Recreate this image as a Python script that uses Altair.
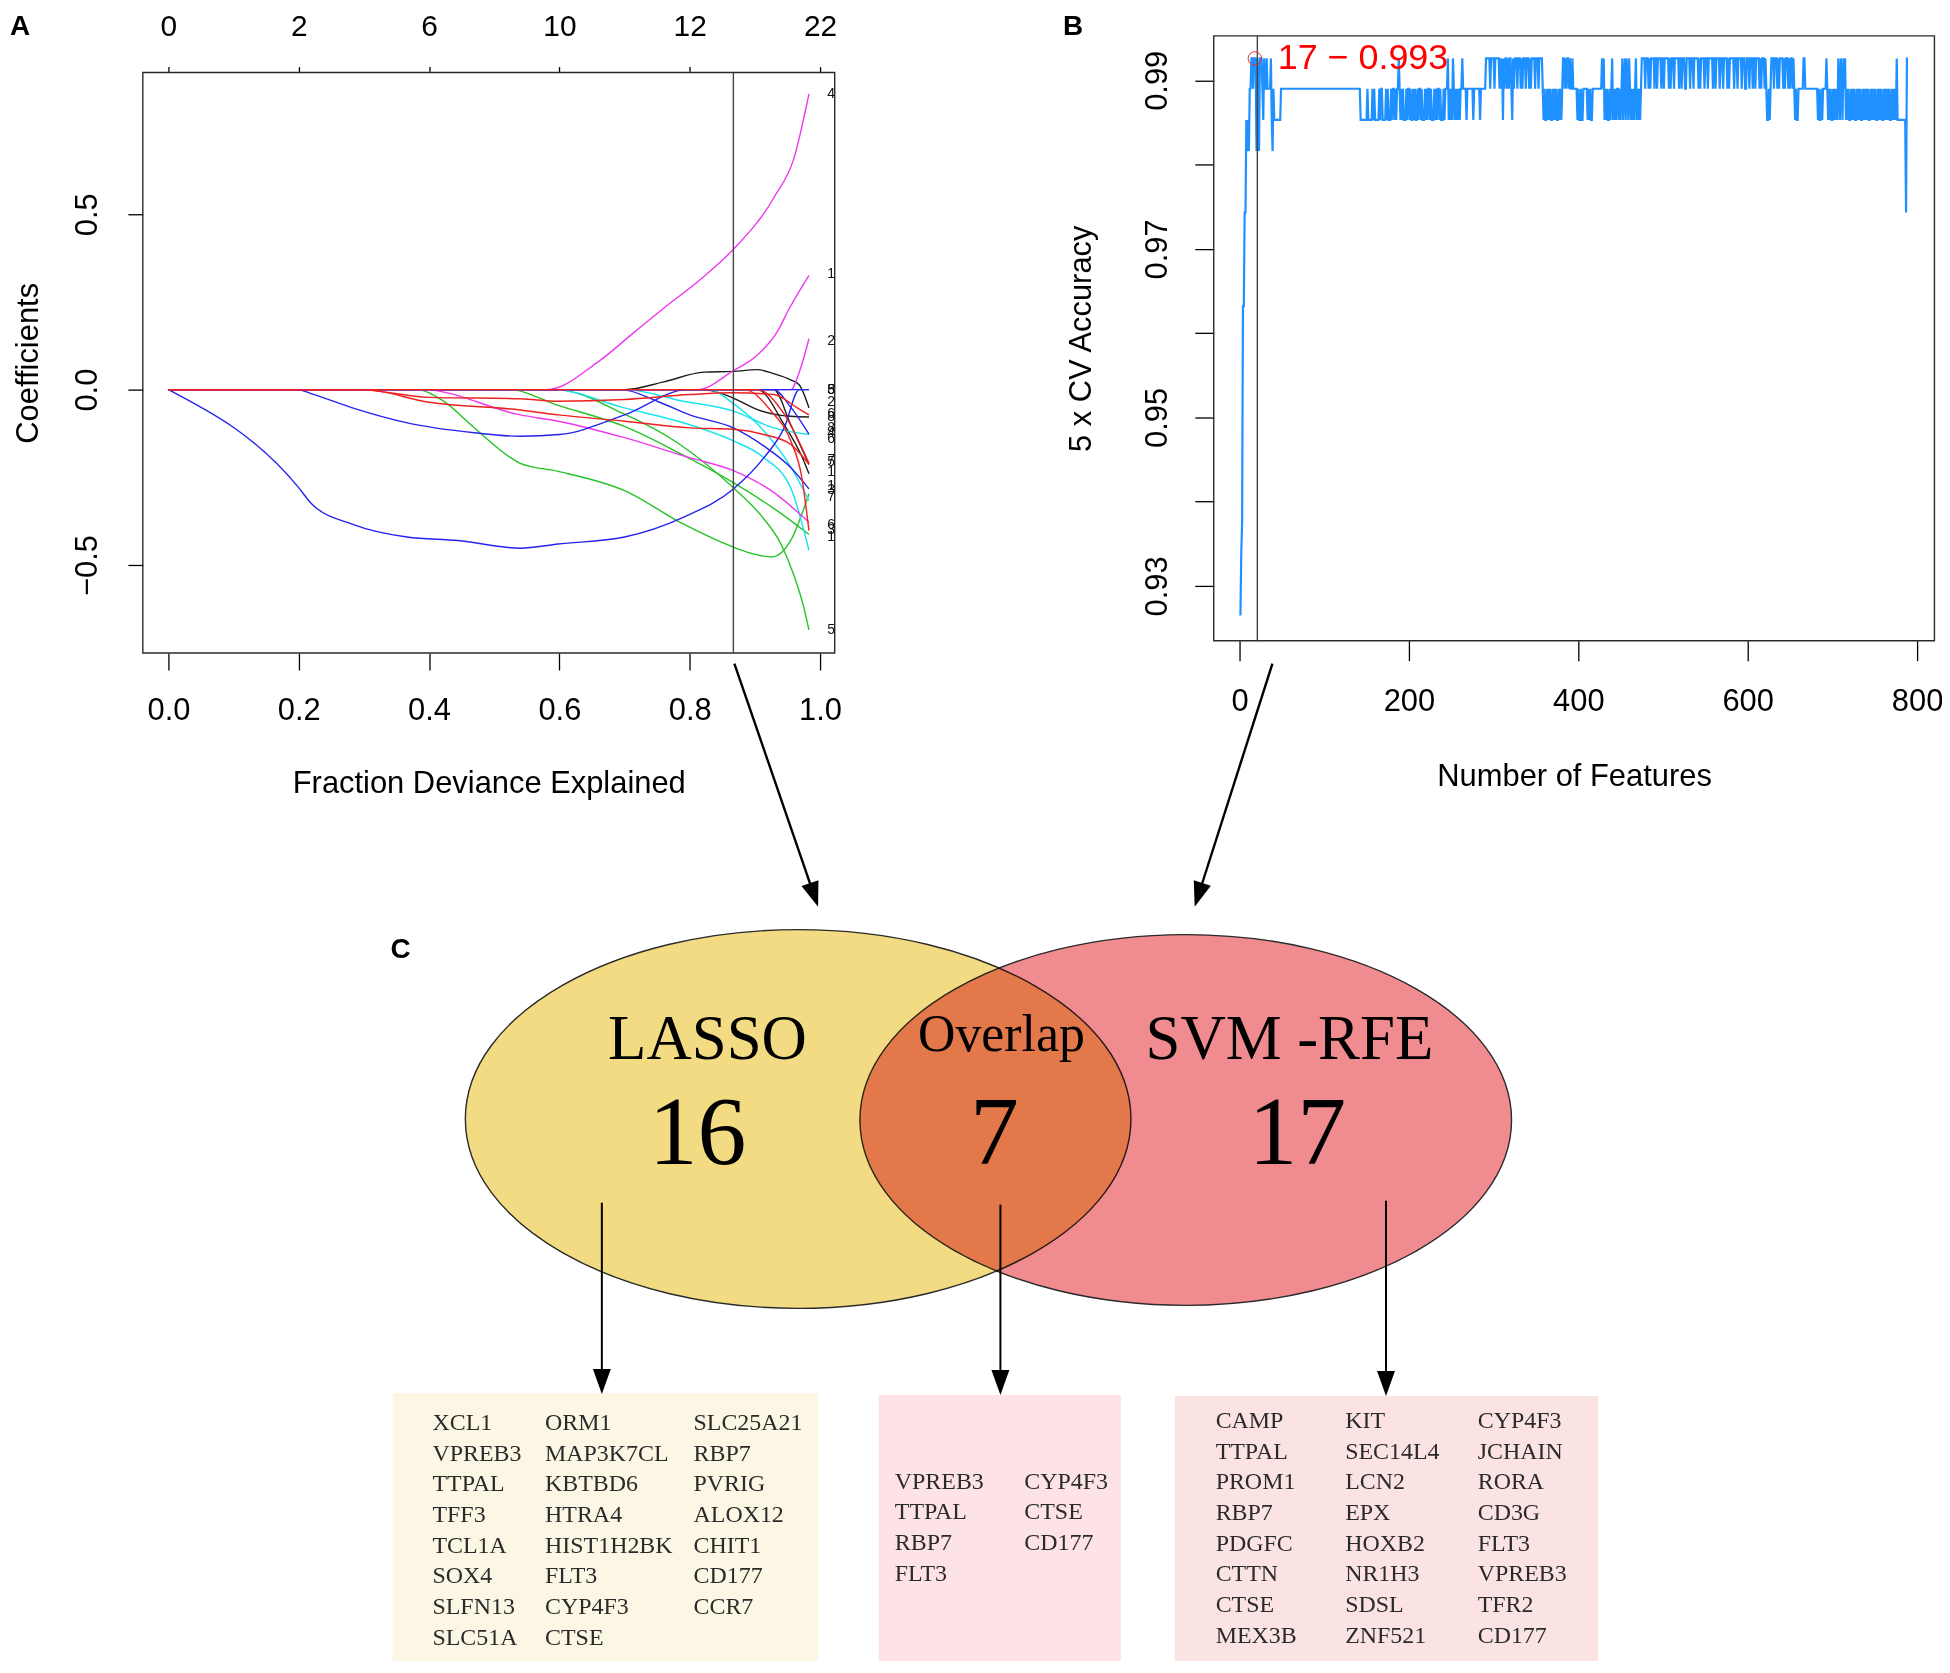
import json
import math
import altair as alt
import pandas as pd

# ============================ DATA ============================
# ---- Panel A : LASSO coefficient paths ----
a_dev_ticks = [0.0, 0.2, 0.4, 0.6, 0.8, 1.0]
a_nonzero_labels = ["0", "2", "6", "10", "12", "22"]
a_coef_ticks = [-0.5, 0.0, 0.5]
a_selected_dev = 0.867

a_palette = {"black": "#1c1c1c", "red": "#f02020", "green": "#26c326",
             "blue": "#2424ee", "cyan": "#18e4ee", "magenta": "#ee38ee"}

black_top = [(0, 0), (0.70, 0), (0.76, 0.022), (0.822, 0.050), (0.867, 0.052), (0.904, 0.057),
             (0.93, 0.045), (0.955, 0.028), (0.968, 0.014), (0.983, -0.052)]
black_2 = [(0, 0), (0.822, 0), (0.867, -0.024), (0.904, -0.057), (0.955, -0.076), (0.983, -0.078)]
black_3 = [(0, 0), (0.904, 0), (0.945, -0.10), (0.972, -0.19), (0.983, -0.24)]
black_4 = [(0, 0), (0.929, 0), (0.955, -0.10), (0.983, -0.213)]
green_a = [(0, 0), (0.38, 0), (0.42, -0.03), (0.47, -0.11), (0.54, -0.21), (0.598, -0.233), (0.70, -0.288),
           (0.79, -0.383), (0.867, -0.449), (0.888, -0.463), (0.926, -0.477), (0.955, -0.43), (0.983, -0.297)]
green_b = [(0, 0), (0.523, 0), (0.598, -0.045), (0.70, -0.105), (0.778, -0.175), (0.867, -0.265),
           (0.93, -0.34), (0.983, -0.413)]
green_c = [(0, 0), (0.595, 0), (0.70, -0.07), (0.78, -0.15), (0.867, -0.28), (0.91, -0.36), (0.94, -0.44),
           (0.96, -0.53), (0.975, -0.62), (0.983, -0.685)]
cyan_1 = [(0, 0), (0.59, 0), (0.70, -0.052), (0.80, -0.10), (0.867, -0.146), (0.914, -0.194),
          (0.955, -0.28), (0.983, -0.458)]
cyan_2 = [(0, 0), (0.70, 0), (0.79, -0.033), (0.867, -0.061), (0.929, -0.109), (0.983, -0.128)]
cyan_3 = [(0, 0), (0.83, 0), (0.867, -0.04), (0.914, -0.118), (0.955, -0.22), (0.983, -0.316)]
magenta_big = [(0, 0), (0.58, 0), (0.66, 0.08), (0.715, 0.164), (0.76, 0.232), (0.82, 0.32), (0.867, 0.40),
               (0.93, 0.55), (0.96, 0.66), (0.983, 0.843)]
magenta_2 = [(0, 0), (0.812, 0), (0.867, 0.054), (0.904, 0.099), (0.934, 0.164), (0.953, 0.232), (0.983, 0.326)]
magenta_3 = [(0, 0), (0.955, 0), (0.97, 0.06), (0.983, 0.145)]
magenta_low = [(0, 0), (0.39, 0), (0.54, -0.072), (0.598, -0.09), (0.70, -0.137), (0.80, -0.194),
               (0.867, -0.231), (0.925, -0.288), (0.983, -0.378)]
blue_big = [(0, 0), (0.198, -0.275), (0.22, -0.326), (0.283, -0.384), (0.366, -0.42), (0.444, -0.43),
            (0.54, -0.452), (0.598, -0.44), (0.70, -0.42), (0.79, -0.364), (0.867, -0.283), (0.914, -0.194),
            (0.945, -0.109), (0.968, 0), (0.983, 0)]
blue_2 = [(0, 0), (0.198, 0), (0.22, -0.012), (0.286, -0.054), (0.365, -0.094), (0.47, -0.123), (0.54, -0.133),
          (0.60, -0.128), (0.70, -0.072), (0.797, 0), (0.983, 0)]
blue_3 = [(0, 0), (0.695, 0), (0.75, -0.033), (0.80, -0.072), (0.867, -0.109), (0.914, -0.161),
          (0.955, -0.222), (0.983, -0.283)]
blue_4 = [(0, 0), (0.929, 0), (0.955, -0.05), (0.983, -0.127)]
red_1 = [(0, 0), (0.29, 0), (0.40, -0.022), (0.54, -0.026), (0.598, -0.033), (0.70, -0.028), (0.80, -0.014),
         (0.867, -0.009), (0.929, -0.014), (0.965, -0.052), (0.983, -0.072)]
red_2 = [(0, 0), (0.30, 0), (0.40, -0.036), (0.54, -0.058), (0.598, -0.072), (0.70, -0.09), (0.80, -0.109),
         (0.867, -0.113), (0.914, -0.128), (0.955, -0.156), (0.983, -0.213)]
red_3 = [(0, 0), (0.884, 0), (0.925, -0.061), (0.955, -0.146), (0.972, -0.25), (0.983, -0.402)]
red_4 = [(0, 0), (0.904, 0), (0.945, -0.07), (0.983, -0.21)]

a_paths = [
    ("black_top", "black", black_top), ("black_2", "black", black_2), ("black_3", "black", black_3),
    ("black_4", "black", black_4), ("green_a", "green", green_a), ("green_b", "green", green_b),
    ("green_c", "green", green_c), ("cyan_1", "cyan", cyan_1), ("cyan_2", "cyan", cyan_2),
    ("cyan_3", "cyan", cyan_3), ("magenta_big", "magenta", magenta_big), ("magenta_2", "magenta", magenta_2),
    ("magenta_3", "magenta", magenta_3), ("magenta_low", "magenta", magenta_low),
    ("blue_big", "blue", blue_big), ("blue_2", "blue", blue_2), ("blue_3", "blue", blue_3),
    ("blue_4", "blue", blue_4), ("red_1", "red", red_1), ("red_2", "red", red_2),
    ("red_3", "red", red_3), ("red_4", "red", red_4),
]

a_end_labels = ["4", "1", "2", "5", "8", "2", "6", "8", "8", "4", "6", "7", "5", "1", "1", "3", "7",
                "6", "3", "1", "5"]
a_end_label_coef = [0.844, 0.329, 0.139, 0.0, 0.0, -0.034, -0.07, -0.078, -0.11, -0.125, -0.14, -0.2,
                    -0.207, -0.235, -0.275, -0.285, -0.306, -0.385, -0.40, -0.42, -0.686]

# ---- Panel B : SVM-RFE 5 x CV accuracy vs number of features ----
b_levels = {"a": 0.9926, "b": 0.9890, "c": 0.9853, "d": 0.9816, "e": 0.9743,
            "f": 0.9632, "g": 0.9375, "h": 0.9338, "i": 0.9265}
# run-length reading of the curve: "<count><level>" for n = 1, 2, 3, ...
b_runs = [
    "1i 1h 1g 2f 2e 1c 1d 1c 1d 2b 2a 1b 3a 1d 1a 1b 1d 3a 1b 1c 1a 2b 1a 4b 1a 1c 1d 1b 8c 94b",
    "8c 1b 5c 1b 1c 1b 5c 1b 1c 2b 4c 1b 1c 1b 3c 1b 1c 2b 1c 1b 1c 2b 1a 1b 1c 1b 1c 1b 3c 1b 1c 2b",
    "1c 1b 2c 1b 1c 1b 2c 1b 1c 2b 1c 1b 3c 1b 1c 1b 1c 2b 1c 1b 3c 1b 1c 1b 1c 2b 1c 1b 3c 1b 1c 3b 1a 1c 1b 1c 1b 1c 1a 1b",
    "1c 1b 1c 1b 1c 1b 1c 2b 1a 4b 1c 7b 1c 7b 1c 6b",
    "5a 1b 4a 1b 5a 1b 1a 1b 1a 1c 1a 1b 2a 1b 1a 1b 2a 1b 1c 1a 1b 3a 1b 3a 1b 1a 1b 3a 1b 3a 1b 1a 1b 4a 1b 3a 1b 4a 1b",
    "1c 1b 2c 1b 1c 1b 1c 1b 2c 1b 1c 1b 1c 1b 2c 1b 1c 1b 1c 1b",
    "2a 1b 1a 1b 2a 1b 1a 2b 1a 5b",
    "1c 1b 2c 1b 2c 5b 1c 1b 1c 1b 2c 11b 1a 1b",
    "1a 1c 1b 1c 1b 2c 1b 1c 1b 1a 1c 1b 1c 1b 1c 2b 1c 1b 1c 1b 1a 1c 1b 1a 1c 1a 1b 1c 1a 1b 1c 1b 1c 1b 1c 1b 1a 1c 1b 1c 1b 1c 1b",
    "4a 1b 3a 1b 1a 1b 4a 1b 2a 1b 4a 1b 2a 1b 5a 1b 1a 1b 3a 1b 5a 1b 2a 1b 3a 2b 4a 1b 3a 1b 5a 1b 1a 1b 4a 1b 3a 1b 5a 1b 2a 1b 4a 1b 3a 1b 4a 1b 1a 1b 5a 1b 3a 1b 4a 1b 3a 2b 3a",
    "1b 3a 1b 2a 1b 4a 1b 1a 1b 3a 1b 1a 1b 2c 1b 1c 1b 3a 1b 3a 1b 1a 1b 4a 1b 1a 1b 3a 1b 1a 1b 2a 1b 1a 1b 1c 1b 2c",
    "6b 2a 15b 1c 1b 2c 1b 1c 4b 1a 1b",
    "1c 1b 1c 1b 2c 1b 1c 1b 1c 1b 1c 1a 1b 1c 1a 1b 1c 1a 1b 1a",
    "1c 1b 1c 1b 2c 1b 1c 1b 1c 1b 2c 1b 1c 1b 1c 1b 2c 1b 1c 1b 1c 1b 1c 1b 2c 1b 1c 1b 1c 1b 1c 1b 2c 1b 1c 1b 1c 1b 2c 1b 1c 1b 1c 1b 1c 1b 2c 1b 1c 1b 1c 1b",
    "1c 1a 10c 1e 2a",
]
b_best_n = 18
b_best_acc = 0.9926
b_best_label = "17 \u2212 0.993"
b_vline_n = 21
b_x_ticks = [0, 200, 400, 600, 800]
b_y_ticks = [0.93, 0.94, 0.95, 0.96, 0.97, 0.98, 0.99]

# ---- Panel C : Venn diagram and gene lists ----
venn_names = ["LASSO", "Overlap", "SVM -RFE"]
venn_counts = ["16", "7", "17"]
lasso_genes = [["XCL1", "VPREB3", "TTPAL", "TFF3", "TCL1A", "SOX4", "SLFN13", "SLC51A"],
               ["ORM1", "MAP3K7CL", "KBTBD6", "HTRA4", "HIST1H2BK", "FLT3", "CYP4F3", "CTSE"],
               ["SLC25A21", "RBP7", "PVRIG", "ALOX12", "CHIT1", "CD177", "CCR7"]]
overlap_genes = [["VPREB3", "TTPAL", "RBP7", "FLT3"],
                 ["CYP4F3", "CTSE", "CD177"]]
svm_genes = [["CAMP", "TTPAL", "PROM1", "RBP7", "PDGFC", "CTTN", "CTSE", "MEX3B"],
             ["KIT", "SEC14L4", "LCN2", "EPX", "HOXB2", "NR1H3", "SDSL", "ZNF521"],
             ["CYP4F3", "JCHAIN", "RORA", "CD3G", "FLT3", "VPREB3", "TFR2", "CD177"]]
panel_letters = ["A", "B", "C"]

# ============================ LAYOUT / STYLE ============================
W, H = 1941, 1657
SANS = "Liberation Sans"
SERIF = "Liberation Serif"

AX = alt.Scale(domain=[-0.0393, 1.0225], range=[135.3, 829.7], nice=False, zero=False)
AY = alt.Scale(domain=[-0.751, 0.904], range=[644.4, 61.8], nice=False, zero=False)
BX = alt.Scale(domain=[-30.5, 820.5], range=[1210.1, 1933.4], nice=False, zero=False)
BY = alt.Scale(domain=[0.9235, 0.99527], range=[632.0, 25.0], nice=False, zero=False)
# page-pixel frame used for the diagram panel
PX = alt.Scale(domain=[8, 8 + W], range=[0, W], nice=False, zero=False)
PY = alt.Scale(domain=[8, 8 + H], range=[0, H], nice=False, zero=False)

ELL_R = 0.569
ELLIPSE = (f"M-1,0A1,{ELL_R},0,0,1,0,-{ELL_R}A1,{ELL_R},0,0,1,1,0"
           f"A1,{ELL_R},0,0,1,0,{ELL_R}A1,{ELL_R},0,0,1,-1,0Z")
ARROW = "M0,0L-0.36,-1L0.36,-1Z"

venn_ellipses = [(801, 1120, 334, "#F2DB83"), (1190, 1121, 327, "#F08C90")]
venn_name_x = [710, 1005, 1294]
venn_name_base = [1060, 1052, 1060]
venn_name_size = [63, 52, 63]
venn_count_x = [700, 998, 1302]
venn_count_base = 1165
venn_count_size = 98

gene_boxes = [(394, 821, 1395, 1664, "#FCF6E4"), (882, 1125, 1397, 1664, "#FDE3E8"),
              (1179, 1604, 1398, 1664, "#FBE3E3")]
gene_col_x = [[434, 547, 696], [898, 1028], [1220, 1350, 1483]]
gene_row0 = [1432, 1491, 1430]
gene_row_step = 30.8

arrow_lines = [((737, 663), (821, 907), 2.4), ((1277, 663), (1199, 907), 2.4),
               ((604, 1204), (604, 1396), 2.0), ((1004, 1206), (1004, 1397), 2.0),
               ((1391, 1202), (1391, 1398), 2.0)]
letter_pos = [(20, 32), (1077, 32), (402, 958)]


def axis(**kw):
    base = dict(grid=False, domain=False, labelFont=SANS, labelFontSize=31, labelColor="black",
                tickColor="black", tickWidth=1.3, titleFont=SANS, titleFontSize=31,
                titleFontWeight="normal", titleColor="black", labelFlush=False, labelOverlap=False)
    base.update(kw)
    return alt.Axis(**base)


layers = []

# ---------------- Panel A ----------------
rows = []
for name, col, pts in a_paths:
    for i, (d, c) in enumerate(pts):
        rows.append({"series": name, "color": a_palette[col], "order": i, "dev": d, "coef": c})
a_df = pd.DataFrame(rows)

layers.append(
    alt.Chart(a_df).mark_line(strokeWidth=1.4, interpolate="monotone").encode(
        x=alt.X("dev:Q", scale=AX, axis=axis(
            orient="bottom", offset=644.4 - H, values=a_dev_ticks, format=".1f", tickSize=17,
            labelPadding=26, title="Fraction Deviance Explained", titleY=130.6, titleBaseline="middle")),
        y=alt.Y("coef:Q", scale=AY, axis=axis(
            orient="left", offset=-135.3, values=a_coef_ticks, format=".1f", tickSize=15, labelPadding=24,
            labelAngle=270, labelAlign="center", labelBaseline="bottom", title="Coefficients",
            titleX=-115, titleBaseline="middle", titleAngle=270)),
        color=alt.Color("color:N", scale=None),
        detail="series:N",
        order="order:Q",
    )
)

a_box = pd.DataFrame({"x0": [AX.domain[0]], "x1": [AX.domain[1]], "y0": [AY.domain[0]], "y1": [AY.domain[1]]})
top_expr = f"{json.dumps(a_nonzero_labels)}[round(datum.value * 5)]"
layers.append(
    alt.Chart(a_box).mark_rect(fillOpacity=0, stroke="#2a2a2a", strokeWidth=1.4).encode(
        x=alt.X("x0:Q", scale=AX, axis=axis(orient="top", offset=-61.8, values=a_dev_ticks,
                                            labelExpr=top_expr, tickSize=6, labelPadding=25,
                                            labelFontSize=30, title=None)),
        x2="x1:Q",
        y=alt.Y("y0:Q", scale=AY, axis=None),
        y2="y1:Q",
    )
)

a_v = pd.DataFrame({"dev": [a_selected_dev], "y0": [AY.domain[0]], "y1": [AY.domain[1]]})
layers.append(
    alt.Chart(a_v).mark_rule(color="#444444", strokeWidth=1.4).encode(
        x=alt.X("dev:Q", scale=AX, axis=None), y=alt.Y("y0:Q", scale=AY, axis=None), y2="y1:Q")
)

a_lab = pd.DataFrame({"label": a_end_labels, "coef": a_end_label_coef, "dev": [1.011] * len(a_end_labels)})
layers.append(
    alt.Chart(a_lab).mark_text(font=SANS, fontSize=14, align="left", baseline="middle", color="#111111").encode(
        x=alt.X("dev:Q", scale=AX, axis=None), y=alt.Y("coef:Q", scale=AY, axis=None), text="label:N")
)

# ---------------- Panel B ----------------
b_n, b_acc = [], []
n = 0
for chunk in b_runs:
    for tok in chunk.split():
        cnt, lev = int(tok[:-1]), tok[-1]
        for _ in range(cnt):
            n += 1
            b_n.append(n)
            b_acc.append(b_levels[lev])
b_df = pd.DataFrame({"n": b_n, "acc": b_acc})

b_yexpr = "(round(datum.value * 100) % 2 == 1) ? format(datum.value, '.2f') : ''"
layers.append(
    alt.Chart(b_df).mark_line(color="#1E90FF", strokeWidth=2.2).encode(
        x=alt.X("n:Q", scale=BX, axis=axis(
            orient="bottom", offset=632.0 - H, values=b_x_ticks, format="d", tickSize=20, labelPadding=26,
            title="Number of Features", titleY=136, titleBaseline="middle")),
        y=alt.Y("acc:Q", scale=BY, axis=axis(
            orient="left", offset=-1210.1, values=b_y_ticks, labelExpr=b_yexpr, tickSize=19, labelPadding=21,
            labelAngle=270, labelAlign="center", labelBaseline="bottom", title="5 x CV Accuracy",
            titleX=-133, titleBaseline="middle", titleAngle=270)),
    )
)

b_box = pd.DataFrame({"x0": [BX.domain[0]], "x1": [BX.domain[1]], "y0": [BY.domain[0]], "y1": [BY.domain[1]]})
layers.append(
    alt.Chart(b_box).mark_rect(fillOpacity=0, stroke="#2a2a2a", strokeWidth=1.4).encode(
        x=alt.X("x0:Q", scale=BX, axis=None), x2="x1:Q",
        y=alt.Y("y0:Q", scale=BY, axis=None), y2="y1:Q")
)

b_v = pd.DataFrame({"n": [b_vline_n], "y0": [BY.domain[0]], "y1": [BY.domain[1]]})
layers.append(
    alt.Chart(b_v).mark_rule(color="#444444", strokeWidth=1.4).encode(
        x=alt.X("n:Q", scale=BX, axis=None), y=alt.Y("y0:Q", scale=BY, axis=None), y2="y1:Q")
)

b_best = pd.DataFrame({"n": [b_best_n], "acc": [b_best_acc], "label": [b_best_label]})
layers.append(
    alt.Chart(b_best).mark_point(shape="circle", filled=False, color="#e8302f", size=180,
                                 strokeWidth=1.0, opacity=1).encode(
        x=alt.X("n:Q", scale=BX, axis=None), y=alt.Y("acc:Q", scale=BY, axis=None))
)
layers.append(
    alt.Chart(b_best).mark_text(font=SANS, fontSize=36, align="left", baseline="middle", dx=23,
                                color="#FF0000").encode(
        x=alt.X("n:Q", scale=BX, axis=None), y=alt.Y("acc:Q", scale=BY, axis=None), text="label:N")
)

# ---------------- Panel C ----------------
def pxy(xf="x", yf="y"):
    return dict(x=alt.X(f"{xf}:Q", scale=PX, axis=None), y=alt.Y(f"{yf}:Q", scale=PY, axis=None))


for k, (cx, cy, rx, fill) in enumerate(venn_ellipses):
    dfe = pd.DataFrame({"x": [cx], "y": [cy], "size": [(2 * rx) ** 2]})
    md = dict(shape=ELLIPSE, filled=True, fill=fill, stroke="#2a2a2a", strokeWidth=1.4,
              opacity=1, fillOpacity=1)
    if k == 1:
        md["blend"] = "multiply"
    layers.append(alt.Chart(dfe).mark_point(**md).encode(size=alt.Size("size:Q", scale=None), **pxy()))

venn_txt = pd.DataFrame({
    "x": venn_name_x + venn_count_x,
    "y": venn_name_base + [venn_count_base] * 3,
    "text": venn_names + venn_counts,
    "fs": venn_name_size + [venn_count_size] * 3,
})
layers.append(
    alt.Chart(venn_txt).mark_text(font=SERIF, align="center", baseline="alphabetic", color="black").encode(
        text="text:N", size=alt.Size("fs:Q", scale=None), **pxy())
)

box_df = pd.DataFrame({"x": [b[0] for b in gene_boxes], "x2": [b[1] for b in gene_boxes],
                       "y": [b[2] for b in gene_boxes], "y2": [b[3] for b in gene_boxes],
                       "fill": [b[4] for b in gene_boxes]})
layers.append(
    alt.Chart(box_df).mark_rect(opacity=1).encode(
        x2="x2:Q", y2="y2:Q", color=alt.Color("fill:N", scale=None), **pxy())
)

g_rows = []
for b, cols in enumerate([lasso_genes, overlap_genes, svm_genes]):
    for c, genes in enumerate(cols):
        for r, g in enumerate(genes):
            g_rows.append({"x": gene_col_x[b][c], "y": gene_row0[b] + r * gene_row_step, "gene": g})
g_df = pd.DataFrame(g_rows)
layers.append(
    alt.Chart(g_df).mark_text(font=SERIF, fontSize=24, align="left", baseline="alphabetic",
                              color="#2a2a2a").encode(text="gene:N", **pxy())
)

ln_rows, hd_rows = [], []
for (x0, y0), (x1, y1), w in arrow_lines:
    L = math.hypot(x1 - x0, y1 - y0)
    ux, uy = (x1 - x0) / L, (y1 - y0) / L
    ln_rows.append({"x": x0, "y": y0, "x2": x1 - 10 * ux, "y2": y1 - 10 * uy, "w": w})
    ang = (-math.degrees(math.atan2(x1 - x0, y1 - y0))) % 360
    hd_rows.append({"x": x1, "y": y1, "angle": ang})
ln_df = pd.DataFrame(ln_rows)
hd_df = pd.DataFrame(hd_rows)
layers.append(
    alt.Chart(ln_df).mark_rule(color="black").encode(
        x2="x2:Q", y2="y2:Q", strokeWidth=alt.StrokeWidth("w:Q", scale=None), **pxy())
)
layers.append(
    alt.Chart(hd_df).mark_point(shape=ARROW, filled=True, color="black", opacity=1, size=2500).encode(
        angle=alt.Angle("angle:Q", scale=None), **pxy())
)

let_df = pd.DataFrame({"x": [p[0] for p in letter_pos], "y": [p[1] for p in letter_pos], "t": panel_letters})
layers.append(
    alt.Chart(let_df).mark_text(font=SANS, fontSize=28, fontWeight="bold", align="center",
                                baseline="alphabetic", color="black").encode(text="t:N", **pxy())
)

chart = (
    alt.layer(*layers)
    .resolve_scale(x="independent", y="independent")
    .properties(width=W, height=H, padding=0, autosize=alt.AutoSizeParams(type="none"))
    .configure_view(stroke=None)
)

chart.save("out.html", embed_options={"renderer": "svg", "actions": False})
